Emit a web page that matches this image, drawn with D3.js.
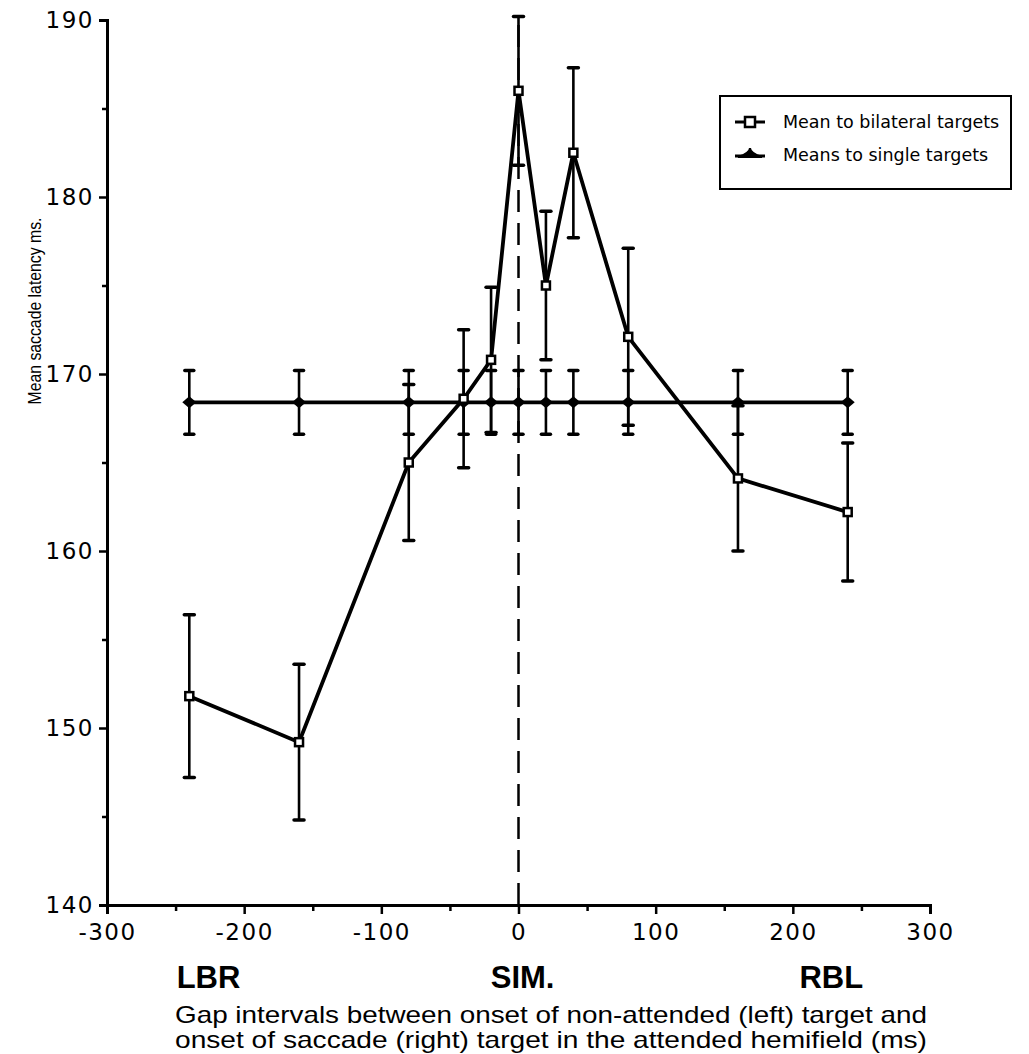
<!DOCTYPE html>
<html>
<head>
<meta charset="utf-8">
<script src="https://cdn.jsdelivr.net/npm/d3@7"></script>
<style>
  html, body { margin: 0; padding: 0; background: #fff; }
  svg { display: block; }
</style>
</head>
<body>
<svg id="chart" width="1029" height="1054"></svg>
<script>
// ---- data ----
const gaps = [-240, -160, -80, -40, -20, 0, 20, 40, 80, 160, 240];
const bilateralMeans = [151.8, 149.2, 165.0, 168.6, 170.8, 186.0, 175.0, 182.5, 172.1, 164.1, 162.2];
const bilateralErr   = [4.6, 4.4, 4.4, 3.9, 4.1, 4.2, 4.2, 4.8, 5.0, 4.1, 3.9];
const singleMeans    = [168.4, 168.4, 168.4, 168.4, 168.4, 168.4, 168.4, 168.4, 168.4, 168.4, 168.4];
const singleErr      = [1.8, 1.8, 1.8, 1.8, 1.8, 1.8, 1.8, 1.8, 1.8, 1.8, 1.8];
const xTicks = [-300, -200, -100, 0, 100, 200, 300];
const xMinorTicks = [-250, -150, -50, 50, 150, 250];
const yTicks = [140, 150, 160, 170, 180, 190];
const yMinorTicks = [145, 155, 165, 175, 185];
const legendLabels = ["Mean to bilateral targets", "Means to single targets"];
const yAxisTitle = "Mean saccade latency ms.";
const regionLabels = [{t: "LBR", x: -226}, {t: "SIM.", x: 3}, {t: "RBL", x: 228}];
const xTitle = ["Gap intervals between onset of non-attended (left) target and",
                "onset of saccade (right) target in the attended hemifield (ms)"];

// ---- layout ----
const svg = d3.select("#chart");
const x = d3.scaleLinear().domain([-300, 300]).range([107, 930]);
const y = d3.scaleLinear().domain([140, 190]).range([905, 20]);
const tickFont = "'DejaVu Sans', sans-serif";
const hyphenFmt = d => String(d);

// x axis
const xAxis = svg.append("g").attr("transform", `translate(0,${y(140)})`);
xAxis.call(d3.axisBottom(x).tickValues(xTicks).tickSize(9).tickPadding(10).tickFormat(hyphenFmt));
xAxis.append("g").call(d3.axisBottom(x).tickValues(xMinorTicks).tickSize(6).tickFormat(""));
xAxis.selectAll(".domain").attr("stroke", "#000").attr("stroke-width", 3);
xAxis.selectAll(".tick line").attr("stroke", "#000").attr("stroke-width", 2.5);
xAxis.selectAll("g.tick text").attr("font-family", tickFont).attr("font-size", 23)
  .attr("letter-spacing", 1.5).attr("fill", "#000");
xAxis.selectAll("g g .domain").remove();

// y axis
const yAxis = svg.append("g").attr("transform", `translate(${x(-300)},0)`);
yAxis.call(d3.axisLeft(y).tickValues(yTicks).tickSize(8).tickPadding(5).tickFormat(hyphenFmt));
yAxis.append("g").call(d3.axisLeft(y).tickValues(yMinorTicks).tickSize(5).tickFormat(""));
yAxis.selectAll(".domain").attr("stroke", "#000").attr("stroke-width", 3);
yAxis.selectAll(".tick line").attr("stroke", "#000").attr("stroke-width", 2.5);
yAxis.selectAll("g.tick text").attr("font-family", tickFont).attr("font-size", 23)
  .attr("letter-spacing", 1.5).attr("fill", "#000");
yAxis.selectAll("g g .domain").remove();

// y axis title
svg.append("text")
  .attr("transform", `translate(41,${311}) rotate(-90)`)
  .attr("text-anchor", "middle")
  .attr("font-family", "'Liberation Sans Narrow', 'Liberation Sans', Arial, sans-serif")
  .attr("font-size", 18)
  .attr("textLength", 187).attr("lengthAdjust", "spacingAndGlyphs")
  .text(yAxisTitle);

// dashed SIM line
svg.append("line")
  .attr("x1", x(0)).attr("x2", x(0))
  .attr("y1", y(140)).attr("y2", y(190))
  .attr("stroke", "#000").attr("stroke-width", 2.5)
  .attr("stroke-dasharray", "22,11");

const plot = svg.append("g");

function errorBars(means, errs, capW) {
  const g = plot.append("g");
  gaps.forEach((gx, i) => {
    const cx = x(gx), top = y(means[i] + errs[i]), bot = y(means[i] - errs[i]);
    g.append("line").attr("x1", cx).attr("x2", cx).attr("y1", top).attr("y2", bot)
      .attr("stroke", "#000").attr("stroke-width", 2.6);
    [top, bot].forEach(yy => {
      g.append("line").attr("x1", cx - capW / 2).attr("x2", cx + capW / 2)
        .attr("y1", yy).attr("y2", yy).attr("stroke", "#000").attr("stroke-width", 3.5)
        .attr("stroke-linecap", "round");
    });
  });
}
errorBars(singleMeans, singleErr, 9);
errorBars(bilateralMeans, bilateralErr, 10);

const line = d3.line().x(d => x(d[0])).y(d => y(d[1]));
plot.append("path")
  .datum(gaps.map((g, i) => [g, singleMeans[i]]))
  .attr("d", line).attr("fill", "none").attr("stroke", "#000").attr("stroke-width", 3.8);
plot.append("path")
  .datum(gaps.map((g, i) => [g, bilateralMeans[i]]))
  .attr("d", line).attr("fill", "none").attr("stroke", "#000").attr("stroke-width", 3.8)
  .attr("stroke-linejoin", "miter");

// markers
const diamond = (cx, cy, w, h) => `M${cx - w / 2},${cy} L${cx},${cy - h / 2} L${cx + w / 2},${cy} L${cx},${cy + h / 2} Z`;
plot.append("g").selectAll("path").data(gaps).join("path")
  .attr("d", (g, i) => diamond(x(g), y(singleMeans[i]), 14, 12))
  .attr("fill", "#000");
plot.append("g").selectAll("rect").data(gaps).join("rect")
  .attr("x", g => x(g) - 4).attr("y", (g, i) => y(bilateralMeans[i]) - 4)
  .attr("width", 8).attr("height", 8)
  .attr("fill", "#fff").attr("stroke", "#000").attr("stroke-width", 2.5);

// legend
const lg = svg.append("g");
lg.append("rect").attr("x", 720).attr("y", 96).attr("width", 291).attr("height", 93)
  .attr("fill", "#fff").attr("stroke", "#000").attr("stroke-width", 2);
const ly = [122, 155];
lg.append("line").attr("x1", 735).attr("x2", 765).attr("y1", ly[0]).attr("y2", ly[0])
  .attr("stroke", "#000").attr("stroke-width", 3);
lg.append("rect").attr("x", 745).attr("y", ly[0] - 5).attr("width", 10).attr("height", 10)
  .attr("fill", "#fff").attr("stroke", "#000").attr("stroke-width", 2.5);
lg.append("line").attr("x1", 735).attr("x2", 765).attr("y1", ly[1] + 1).attr("y2", ly[1] + 1)
  .attr("stroke", "#000").attr("stroke-width", 3);
lg.append("path").attr("d", `M738,${ly[1] + 2} Q750,${ly[1] - 2} 750,${ly[1] - 7} Q750,${ly[1] - 2} 762,${ly[1] + 2} Z`)
  .attr("fill", "#000").attr("stroke", "#000").attr("stroke-width", 2);
legendLabels.forEach((t, i) => {
  lg.append("text").attr("x", 783).attr("y", ly[i]).attr("dy", "0.35em")
    .attr("font-family", tickFont).attr("font-size", 17.5).attr("fill", "#000").text(t);
});

// region labels
regionLabels.forEach(r => {
  svg.append("text").attr("x", x(r.x)).attr("y", 988).attr("text-anchor", "middle")
    .attr("font-family", "'Liberation Sans', Arial, sans-serif").attr("font-weight", "bold")
    .attr("font-size", 31).attr("fill", "#000").text(r.t);
});

// x title
xTitle.forEach((t, i) => {
  svg.append("text").attr("x", 175).attr("y", 1023 + i * 25)
    .attr("font-family", "'Liberation Sans', Arial, sans-serif")
    .attr("font-size", 24).attr("fill", "#000")
    .attr("textLength", 752).attr("lengthAdjust", "spacingAndGlyphs")
    .text(t);
});
</script>
</body>
</html>
